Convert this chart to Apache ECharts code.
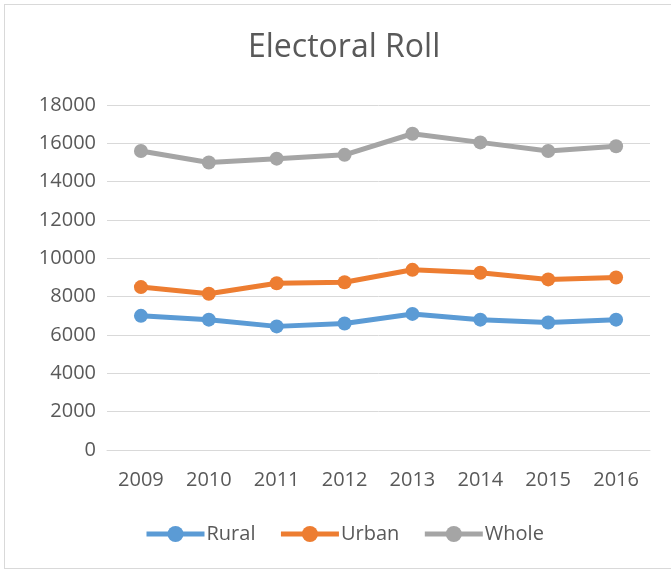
<!DOCTYPE html>
<html>
<head>
<meta charset="utf-8">
<script src="https://cdn.jsdelivr.net/npm/echarts@6/dist/echarts.min.js"></script>
<style>
html,body{margin:0;padding:0;background:#fff;overflow:hidden;}
#frame{position:absolute;left:4px;top:4px;width:700px;height:565px;border:1px solid #D9D9D9;box-sizing:border-box;}
#chart{position:absolute;left:0;top:0;width:671px;height:571px;}
</style>
</head>
<body>
<div id="frame"></div>
<div id="chart"></div>
<script>
const categories = ['2009','2010','2011','2012','2013','2014','2015','2016'];
const rural = [7000, 6800, 6450, 6600, 7100, 6800, 6650, 6800];
const urban = [8500, 8150, 8700, 8750, 9400, 9250, 8900, 9000];
const whole = [15600, 15000, 15200, 15400, 16500, 16050, 15600, 15850];
const seriesNames = ['Rural', 'Urban', 'Whole'];
const colors = ['#5B9BD5', '#ED7D31', '#A5A5A5'];

const chart = echarts.init(document.getElementById('chart'), null, {renderer: 'canvas'});
const font = "'Open Sans', sans-serif";
function mk(name, data, color) {
  return {
    name: name, type: 'line', data: data,
    symbol: 'circle', symbolSize: 14,
    lineStyle: {width: 5, color: color},
    itemStyle: {color: color},
    z: 3
  };
}
chart.setOption({
  animation: false,
  color: colors,
  title: {
    text: 'Electoral Roll', left: 243, top: 27,
    textStyle: {fontFamily: font, fontSize: 32, fontWeight: 'normal', color: '#595959'}
  },
  legend: {
    bottom: 22, left: 139,
    itemWidth: 58, itemHeight: 20, itemGap: 23,
    lineStyle: {width: 5},
    textStyle: {fontFamily: font, fontSize: 20, color: '#595959', padding: [0,0,0,-3]},
    data: seriesNames
  },
  grid: {left: 107, right: 21, top: 105, bottom: 121, containLabel: false},
  xAxis: {
    type: 'category', data: categories, boundaryGap: true,
    axisLine: {show: true, lineStyle: {color: '#D9D9D9', width: 1}},
    axisTick: {show: false},
    axisLabel: {fontFamily: font, fontSize: 20, color: '#595959', margin: 20}
  },
  yAxis: {
    type: 'value', min: 0, max: 18000, interval: 2000,
    axisLine: {show: false}, axisTick: {show: false},
    splitLine: {lineStyle: {color: '#D9D9D9', width: 1}},
    axisLabel: {fontFamily: font, fontSize: 20, color: '#595959', margin: 11,
      formatter: function (v) { return String(v); }}
  },
  series: [mk('Rural', rural, colors[0]), mk('Urban', urban, colors[1]), mk('Whole', whole, colors[2])]
});
</script>
</body>
</html>
